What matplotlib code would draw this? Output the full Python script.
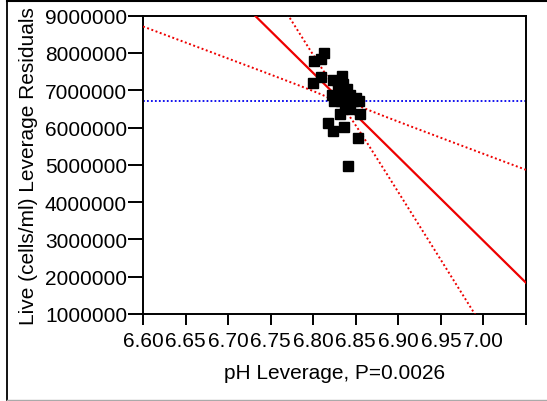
import numpy as np
import matplotlib
matplotlib.use("Agg")
import matplotlib.pyplot as plt
from matplotlib.lines import Line2D

plt.rcParams['font.family'] = ['Liberation Sans', 'DejaVu Sans']

# --- data (pH leverage vs. Live cells leverage residuals)
ph_leverage = [6.8127, 6.8009, 6.8091, 6.8091, 6.7997,
               6.8338, 6.8232, 6.8350, 6.8291, 6.8397,
               6.8221, 6.8291, 6.8362, 6.8432, 6.8503,
               6.8244, 6.8326, 6.8397, 6.8467, 6.8538,
               6.8315, 6.8550, 6.8432, 6.8373,
               6.8174, 6.8232, 6.8362, 6.8526, 6.8409]
live_residuals = [8.00e6, 7.785e6, 7.839e6, 7.356e6, 7.195e6,
                  7.383e6, 7.276e6, 7.168e6, 7.088e6, 7.034e6,
                  6.873e6, 6.847e6, 6.900e6, 6.873e6, 6.793e6,
                  6.712e6, 6.712e6, 6.686e6, 6.712e6, 6.712e6,
                  6.364e6, 6.364e6, 6.498e6, 6.552e6,
                  6.123e6, 5.908e6, 6.015e6, 5.720e6, 4.969e6]

# fit summary
x_mean = 6.833
y_mean = 6.72e6
fit_slope = -2.25e7
ci_slope = 1.394e7      # asymptotic half-width slope of confidence curves
ci_center = 1.5e5       # half-width of confidence curves at the mean

x_ticks = [6.60, 6.65, 6.70, 6.75, 6.80, 6.85, 6.90, 6.95, 7.00, 7.05]
x_tick_labels = ['6.60', '6.65', '6.70', '6.75', '6.80', '6.85', '6.90', '6.95', '7.00', '']
y_ticks = [1000000, 2000000, 3000000, 4000000, 5000000, 6000000, 7000000, 8000000, 9000000]
y_tick_labels = [str(v) for v in y_ticks]
x_lim = (6.60, 7.05)
y_lim = (1000000, 9000000)

W, H = 547, 402
FS = 15
fig = plt.figure(figsize=(W / 100, H / 100), dpi=100)
ax = fig.add_axes([143 / W, 1 - 315 / H, (526 - 143) / W, (315 - 16.7) / H])

xs = np.linspace(x_lim[0], x_lim[1], 400)
yfit = y_mean + fit_slope * (xs - x_mean)
half = np.sqrt(ci_center ** 2 + (ci_slope * (xs - x_mean)) ** 2)

ax.axhline(y_mean, color='#0000ee', lw=1.3, ls=(0, (1, 1.2)), zorder=2)
ax.plot(xs, yfit, color='#ee0000', lw=1.6, zorder=3)
ax.plot(xs, yfit + half, color='#ee0000', lw=1.4, ls=(0, (1, 1.3)), zorder=3)
ax.plot(xs, yfit - half, color='#ee0000', lw=1.4, ls=(0, (1, 1.3)), zorder=3)
ax.plot(ph_leverage, live_residuals, ls='none', marker='s', ms=6.5,
        mfc='black', mec='black', zorder=4)

ax.set_xlim(*x_lim)
ax.set_ylim(*y_lim)
ax.set_xticks(x_ticks)
ax.set_xticklabels(x_tick_labels)
ax.set_yticks(y_ticks)
ax.set_yticklabels(y_tick_labels)
ax.tick_params(axis='y', length=11, width=1.4, pad=0.5, labelsize=FS, direction='out')
ax.tick_params(axis='x', length=8, width=1.4, pad=4, labelsize=FS, direction='out')
for sp in ax.spines.values():
    sp.set_linewidth(1.4)
    sp.set_color('black')

fig.text(29 / W, 1 - 166 / H, 'Live (cells/ml) Leverage Residuals', rotation=90,
         ha='center', va='center', fontsize=FS)
fig.text(335 / W, 1 - 374 / H, 'pH Leverage, P=0.0026', ha='center', va='center',
         fontsize=FS)
# title, cut off at the top of the image as in the reference
fig.text(78 / W, 1 + 1.5 / H, 'Leverage Plot', ha='left', va='baseline', fontsize=FS)

# outer report frame
fig.add_artist(Line2D([7 / W, 1], [1 - 2 / H, 1 - 2 / H], transform=fig.transFigure,
                      color='black', lw=1.5))
fig.add_artist(Line2D([7 / W, 7 / W], [1 - 2 / H, 1 - 400.5 / H], transform=fig.transFigure,
                      color='black', lw=1.3))
fig.add_artist(Line2D([7 / W, 1], [1 - 400.5 / H, 1 - 400.5 / H], transform=fig.transFigure,
                      color='#aaaaaa', lw=1.0))

fig.savefig('out.png', dpi=100)
